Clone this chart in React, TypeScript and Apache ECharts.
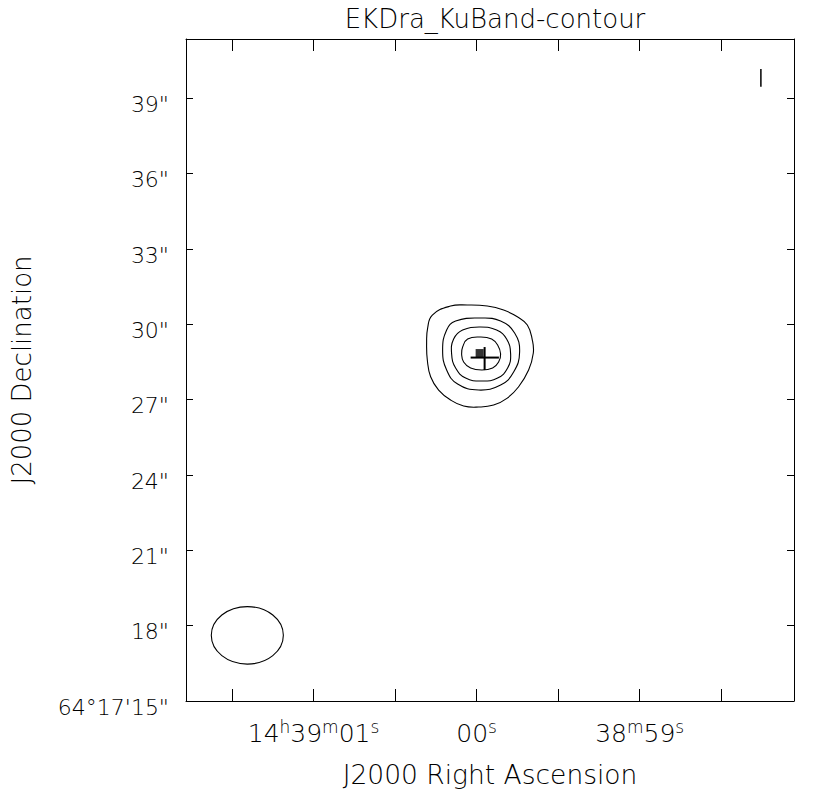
import React, { useEffect, useRef } from 'react';
import * as echarts from 'echarts';

// ---------- texts ----------
const chartTitle = 'EKDra_KuBand-contour';
const xAxisTitle = 'J2000 Right Ascension';
const yAxisTitle = 'J2000 Declination';

// ---------- axes (RA in seconds relative to 14h39m00s, Dec in arcsec relative to 64°17'00") ----------
const raMin = -1.946;
const raMax = 1.782;
const decMin = 15;
const decMax = 41.364;

const raTickValues = [1.5, 1, 0.5, 0, -0.5, -1, -1.5];
const raLabelValues = [1, 0, -1];
const raLabelTexts = [
  '{n|14}{s|h}{n|39}{s|m}{n|01}{s|s}',
  '{n|00}{s|s}',
  '{n|38}{s|m}{n|59}{s|s}',
];
const decTickValues = [15, 18, 21, 24, 27, 30, 33, 36, 39];
const decLabelTexts = ['64°17\'15"', '18"', '21"', '24"', '27"', '30"', '33"', '36"', '39"'];

// ---------- contours [RA s, Dec arcsec] ----------
const contourLevel1 = [
  [0.2716, 30.370], [0.1594, 30.728], [0.0570, 30.768], [-0.0656, 30.728],
  [-0.1655, 30.569], [-0.2495, 30.302], [-0.3109, 29.972], [-0.3415, 29.374],
  [-0.3476, 28.857], [-0.3188, 28.180], [-0.2575, 27.515], [-0.1882, 27.064],
  [-0.1042, 26.786], [-0.0123, 26.706], [0.0797, 26.746], [0.1594, 26.985],
  [0.2330, 27.383], [0.2820, 27.913], [0.3023, 28.578], [0.3066, 29.255],
  [0.3004, 29.852],
];
const contourLevel2 = [
  [-0.0245, 30.250], [-0.1471, 30.131], [-0.2330, 29.653], [-0.2636, 28.896],
  [-0.2269, 28.100], [-0.1471, 27.582], [-0.0123, 27.383], [0.1165, 27.622],
  [0.1839, 28.180], [0.2085, 28.976], [0.1839, 29.773], [0.1288, 30.131],
];
const contourLevel3 = [
  [-0.0245, 29.892], [-0.1226, 29.773], [-0.1839, 29.414], [-0.2085, 28.817],
  [-0.1901, 28.259], [-0.1288, 27.861], [-0.0307, 27.742], [0.0674, 27.861],
  [0.1288, 28.259], [0.1533, 28.817], [0.1410, 29.414], [0.0858, 29.773],
];
const contourLevel4 = [
  [-0.0245, 29.494], [-0.0920, 29.414], [-0.1288, 29.175], [-0.1471, 28.817],
  [-0.1349, 28.498], [-0.0981, 28.259], [-0.0307, 28.180], [0.0368, 28.259],
  [0.0797, 28.498], [0.0920, 28.817], [0.0858, 29.096], [0.0552, 29.414],
];
const contours = [contourLevel1, contourLevel2, contourLevel3, contourLevel4];

// ---------- markers ----------
const crossRA = [0.0368, -0.1367]; // horizontal bar RA extent
const crossDec = [29.096, 28.18]; // vertical bar Dec extent
const crossCenter = [-0.049, 28.677];
const peakPixel = [[-0.0184, 28.857]];
const cornerMark = [[-1.743, 40.167], [-1.743, 39.462]];

// beam: [RA s, Dec arcsec, major arcsec (E-W), minor arcsec (N-S)]
const beam = [[1.406, 17.614, 2.87, 2.29]];

const FONT = 'DejaVu Sans';

export default function App() {
  const ref = useRef<HTMLDivElement>(null);

  useEffect(() => {
    if (!ref.current) return;
    const chart = echarts.init(ref.current, null, { renderer: 'svg' });

    const xCommon = {
      type: 'value' as const,
      min: raMin,
      max: raMax,
      inverse: true,
      splitLine: { show: false },
      axisLine: { show: true, onZero: false, lineStyle: { color: '#000', width: 1 } },
    };
    const yCommon = {
      type: 'value' as const,
      min: decMin,
      max: decMax,
      splitLine: { show: false },
      axisLine: { show: true, onZero: false, lineStyle: { color: '#000', width: 1 } },
    };

    const option: any = {
      animation: false,
      backgroundColor: '#fff',
      title: {
        text: chartTitle,
        left: 490,
        top: 1,
        textAlign: 'center',
        textStyle: { fontFamily: FONT, fontWeight: 200, fontSize: 26, color: '#000' },
      },
      grid: { left: 186, top: 39, width: 608, height: 662, containLabel: false },
      xAxis: [
        {
          ...xCommon,
          position: 'bottom',
          name: xAxisTitle,
          nameLocation: 'middle',
          nameGap: 60,
          nameTextStyle: { fontFamily: FONT, fontWeight: 200, fontSize: 26.5, lineHeight: 26, color: '#000' },
          axisTick: {
            show: true,
            inside: true,
            length: 12,
            customValues: raTickValues,
            lineStyle: { color: '#000', width: 1 },
          },
          axisLabel: {
            show: true,
            margin: 18,
            customValues: raLabelValues,
            formatter: (v: number) => {
              const i = raLabelValues.findIndex((x) => Math.abs(x - v) < 1e-6);
              return i >= 0 ? raLabelTexts[i] : '';
            },
            rich: {
              n: { fontFamily: FONT, fontWeight: 200, fontSize: 25, lineHeight: 28, color: '#000' },
              s: { fontFamily: FONT, fontWeight: 200, fontSize: 17, lineHeight: 16, padding: [0, 0, 12, 0], color: '#000' },
            },
          },
        },
        {
          ...xCommon,
          position: 'top',
          axisTick: {
            show: true,
            inside: true,
            length: 12,
            customValues: raTickValues,
            lineStyle: { color: '#000', width: 1 },
          },
          axisLabel: { show: false },
        },
      ],
      yAxis: [
        {
          ...yCommon,
          position: 'left',
          name: yAxisTitle,
          nameLocation: 'middle',
          nameGap: 151,
          nameTextStyle: { fontFamily: FONT, fontWeight: 200, fontSize: 26, lineHeight: 26, color: '#000' },
          axisTick: {
            show: true,
            inside: true,
            length: 7,
            customValues: decTickValues,
            lineStyle: { color: '#000', width: 1 },
          },
          axisLabel: {
            show: true,
            margin: 17,
            customValues: decTickValues,
            fontFamily: FONT,
            fontWeight: 200,
            fontSize: 22,
            lineHeight: 12,
            verticalAlign: 'top',
            color: '#000',
            formatter: (v: number) => {
              const i = decTickValues.findIndex((x) => Math.abs(x - v) < 1e-6);
              return i >= 0 ? decLabelTexts[i] : '';
            },
          },
        },
        {
          ...yCommon,
          position: 'right',
          axisTick: {
            show: true,
            inside: true,
            length: 7,
            customValues: decTickValues,
            lineStyle: { color: '#000', width: 1 },
          },
          axisLabel: { show: false },
        },
      ],
      series: [
        {
          type: 'custom',
          name: 'contours',
          coordinateSystem: 'cartesian2d',
          xAxisIndex: 0,
          yAxisIndex: 0,
          encode: { x: 0, y: 1 },
          data: contours.map((c, i) => [c[0][0], c[0][1], i]),
          renderItem: (_params: any, api: any) => {
            const idx = api.value(2);
            const pts = contours[idx].map((p) => api.coord(p));
            return {
              type: 'polygon',
              shape: { points: pts, smooth: 0.45 },
              style: { fill: 'none', stroke: '#000', lineWidth: 1.1 },
            };
          },
          silent: true,
        },
        {
          type: 'custom',
          name: 'beam',
          coordinateSystem: 'cartesian2d',
          xAxisIndex: 0,
          yAxisIndex: 0,
          encode: { x: 0, y: 1 },
          data: beam,
          renderItem: (_params: any, api: any) => {
            const c = api.coord([api.value(0), api.value(1)]);
            const perArcsec = api.size([0, 1])[1];
            return {
              type: 'ellipse',
              shape: {
                cx: c[0],
                cy: c[1],
                rx: (api.value(2) / 2) * perArcsec,
                ry: (api.value(3) / 2) * perArcsec,
              },
              style: { fill: 'none', stroke: '#000', lineWidth: 1.1 },
            };
          },
          silent: true,
        },
        {
          type: 'line',
          name: 'crossH',
          data: [
            [crossRA[0], crossCenter[1]],
            [crossRA[1], crossCenter[1]],
          ],
          symbol: 'none',
          lineStyle: { color: '#000', width: 2 },
          silent: true,
        },
        {
          type: 'line',
          name: 'crossV',
          data: [
            [crossCenter[0], crossDec[0]],
            [crossCenter[0], crossDec[1]],
          ],
          symbol: 'none',
          lineStyle: { color: '#000', width: 2 },
          silent: true,
        },
        {
          type: 'scatter',
          name: 'peak',
          data: peakPixel,
          symbol: 'rect',
          symbolSize: 8,
          itemStyle: { color: '#000' },
          silent: true,
        },
        {
          type: 'line',
          name: 'mark',
          data: cornerMark,
          symbol: 'none',
          lineStyle: { color: '#000', width: 1.5 },
          silent: true,
        },
      ],
    };

    chart.setOption(option);
    return () => chart.dispose();
  }, []);

  return (
    <div
      ref={ref}
      style={{ position: 'absolute', left: 0, top: 0, width: 813, height: 795, background: '#fff' }}
    />
  );
}
